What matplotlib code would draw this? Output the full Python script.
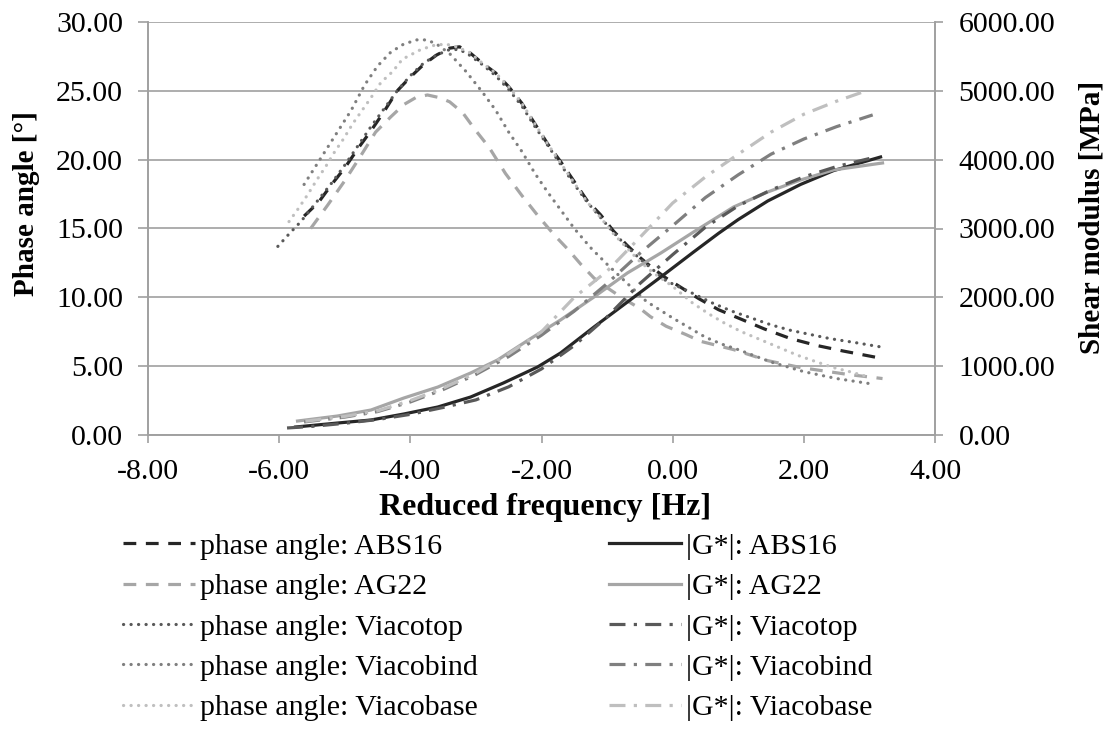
import numpy as np
import matplotlib.pyplot as plt
from matplotlib.ticker import FormatStrFormatter

plt.rcParams["font.family"] = ["Liberation Serif", "DejaVu Serif"]
plt.rcParams["font.size"] = 21.5
plt.rcParams["axes.unicode_minus"] = False

# phase angle curves (left axis)
abs16_pa_f = [-5.62, -5.4, -5.2, -5.0, -4.8, -4.6, -4.4, -4.2, -4.0, -3.8, -3.6, -3.4, -3.25, -3.1, -2.9, -2.7, -2.5, -2.3, -2.1, -1.9, -1.7, -1.5, -1.3, -1.1, -0.9, -0.7, -0.5, -0.3, -0.1, 0.1, 0.4, 0.7, 1.0, 1.4, 1.8, 2.2, 2.6, 3.15]
abs16_pa = [15.9, 16.9, 18.2, 19.4, 20.8, 22.1, 23.5, 25.0, 26.0, 26.9, 27.6, 28.1, 28.2, 27.8, 27.0, 26.3, 25.3, 24.1, 22.6, 21.1, 19.8, 18.4, 17.0, 16.0, 14.8, 13.8, 12.9, 12.1, 11.4, 10.8, 9.9, 9.1, 8.5, 7.7, 7.0, 6.5, 6.1, 5.6]

ag22_pa_f = [-5.52, -5.26, -5.01, -4.78, -4.53, -4.3, -4.1, -3.92, -3.74, -3.55, -3.4, -3.2, -3.0, -2.8, -2.55, -2.3, -2.05, -1.8, -1.6, -1.4, -1.2, -1.0, -0.75, -0.5, -0.34, -0.1, 0.2, 0.43, 0.93, 1.45, 1.95, 2.67, 3.2]
ag22_pa = [15.0, 16.7, 18.4, 20.1, 22.0, 23.1, 24.0, 24.5, 24.7, 24.5, 24.2, 23.4, 22.1, 20.9, 19.0, 17.4, 15.9, 14.5, 13.5, 12.4, 11.4, 10.7, 9.9, 9.2, 8.6, 7.9, 7.3, 6.8, 6.2, 5.4, 4.9, 4.4, 4.1]

top_pa_f = [-6.02, -5.85, -5.67, -5.5, -5.2, -5.0, -4.8, -4.6, -4.4, -4.2, -4.0, -3.8, -3.6, -3.4, -3.25, -3.1, -2.9, -2.7, -2.5, -2.3, -2.1, -1.9, -1.7, -1.5, -1.3, -1.1, -0.9, -0.7, -0.5, -0.3, -0.1, 0.3, 0.6, 0.9, 1.2, 1.5, 1.8, 2.1, 2.4, 2.8, 3.17]
top_pa = [13.7, 14.6, 15.5, 16.5, 18.3, 19.6, 21.0, 22.4, 23.7, 25.0, 26.1, 27.0, 27.6, 28.0, 28.0, 27.6, 26.9, 26.1, 25.1, 23.9, 22.4, 21.0, 19.6, 18.2, 16.9, 15.8, 14.7, 13.7, 12.8, 12.0, 11.2, 10.3, 9.6, 9.0, 8.5, 8.0, 7.6, 7.3, 7.0, 6.7, 6.4]

bind_pa_f = [-5.62, -5.5, -5.3, -5.1, -4.9, -4.7, -4.5, -4.3, -4.1, -3.9, -3.75, -3.6, -3.4, -3.15, -2.9, -2.7, -2.5, -2.3, -2.1, -1.9, -1.7, -1.5, -1.25, -1.0, -0.8, -0.6, -0.4, -0.2, 0.0, 0.25, 0.5, 0.75, 1.0, 1.5, 2.0, 2.5, 3.05]
bind_pa = [18.2, 19.1, 20.6, 22.1, 23.6, 25.4, 26.8, 27.8, 28.4, 28.7, 28.7, 28.4, 27.7, 26.4, 24.9, 23.6, 22.0, 20.6, 19.0, 17.6, 16.3, 15.0, 13.6, 12.4, 11.5, 10.6, 9.7, 9.1, 8.5, 7.8, 7.1, 6.6, 6.2, 5.3, 4.6, 4.1, 3.7]

base_pa_f = [-5.85, -5.7, -5.56, -5.43, -5.29, -5.15, -5.02, -4.88, -4.6, -4.45, -4.27, -4.12, -3.96, -3.84, -3.64, -3.46, -3.3, -3.1, -2.9, -2.7, -2.5, -2.3, -2.1, -1.9, -1.7, -1.5, -1.3, -1.1, -0.9, -0.7, -0.5, -0.3, 0.0, 0.3, 0.55, 0.8, 1.05, 1.3, 1.6, 1.9, 2.2, 2.45, 2.7, 2.92]
base_pa = [15.5, 16.5, 17.5, 18.5, 19.5, 20.6, 21.5, 22.6, 24.5, 25.6, 26.4, 27.3, 27.7, 28.0, 28.3, 28.4, 28.2, 27.8, 27.0, 26.3, 25.3, 24.1, 22.6, 21.1, 19.7, 18.3, 16.9, 15.8, 14.6, 13.6, 12.6, 11.8, 10.8, 9.6, 8.8, 8.1, 7.5, 7.0, 6.4, 5.8, 5.3, 4.9, 4.6, 4.3]

# |G*| curves (right axis, MPa)
abs16_g_f = [-5.75, -5.11, -4.6, -4.1, -3.58, -3.08, -2.58, -2.06, -1.71, -1.2, -0.69, -0.18, 0.32, 0.7, 1.0, 1.45, 1.95, 2.45, 3.17]
abs16_g = [116, 174, 218, 305, 407, 552, 756, 988, 1191, 1569, 1932, 2296, 2659, 2930, 3130, 3400, 3640, 3840, 4039]

ag22_g_f = [-5.72, -5.11, -4.6, -4.1, -3.58, -3.08, -2.67, -2.2, -1.71, -1.2, -0.69, -0.18, 0.32, 0.93, 1.45, 1.95, 2.45, 3.2]
ag22_g = [203, 276, 363, 537, 697, 901, 1090, 1380, 1671, 2005, 2354, 2644, 2950, 3313, 3531, 3705, 3850, 3952]

top_g_f = [-5.88, -5.5, -5.0, -4.5, -4.0, -3.5, -3.0, -2.5, -2.0, -1.5, -1.0, -0.5, 0.0, 0.5, 1.0, 1.5, 2.0, 2.5, 3.1]
top_g = [102, 125, 170, 225, 300, 400, 510, 700, 960, 1300, 1715, 2200, 2620, 3020, 3330, 3560, 3750, 3900, 4040]

bind_g_f = [-5.62, -5.0, -4.5, -4.0, -3.5, -3.0, -2.5, -2.0, -1.5, -1.0, -0.5, 0.0, 0.5, 1.0, 1.5, 2.0, 2.5, 3.05]
bind_g = [190, 260, 340, 480, 660, 880, 1140, 1450, 1800, 2200, 2640, 3040, 3450, 3780, 4080, 4300, 4480, 4650]

base_g_f = [-5.6, -5.0, -4.5, -4.0, -3.5, -3.0, -2.5, -2.0, -1.5, -1.0, -0.5, 0.0, 0.5, 1.0, 1.5, 2.0, 2.5, 2.95]
base_g = [200, 270, 350, 500, 680, 900, 1180, 1500, 2000, 2380, 2870, 3370, 3750, 4080, 4400, 4660, 4850, 5000]

c_abs, c_ag, c_top, c_bind, c_base = '#262626', '#a6a6a6', '#595959', '#7f7f7f', '#bfbfbf'
lw = 2.3
dash = (0, (4, 3))
dot = (0, (0.05, 2.3))
dashdot = (0, (5, 2.6, 1, 2.6))

W, H = 1111, 756
fig = plt.figure(figsize=(W / 100, H / 100), dpi=100)
ax = fig.add_axes([148/W, 1 - 435/H, (935-148)/W, (435-22)/H])
ax2 = ax.twinx()

lines = []
lines += ax.plot(abs16_pa_f, abs16_pa, linestyle=dash, color=c_abs, lw=lw, label='phase angle: ABS16')
lines += ax.plot(ag22_pa_f, ag22_pa, linestyle=dash, color=c_ag, lw=lw, label='phase angle: AG22')
lines += ax.plot(top_pa_f, top_pa, linestyle=dot, color=c_top, lw=lw, dash_capstyle='round', label='phase angle: Viacotop')
lines += ax.plot(bind_pa_f, bind_pa, linestyle=dot, color=c_bind, lw=lw, dash_capstyle='round', label='phase angle: Viacobind')
lines += ax.plot(base_pa_f, base_pa, linestyle=dot, color=c_base, lw=lw, dash_capstyle='round', label='phase angle: Viacobase')

lines += ax2.plot(abs16_g_f, abs16_g, '-', color=c_abs, lw=lw, label='|G*|: ABS16')
lines += ax2.plot(ag22_g_f, ag22_g, '-', color=c_ag, lw=lw, label='|G*|: AG22')
lines += ax2.plot(top_g_f, top_g, linestyle=dashdot, color=c_top, lw=lw, label='|G*|: Viacotop')
lines += ax2.plot(bind_g_f, bind_g, linestyle=dashdot, color=c_bind, lw=lw, label='|G*|: Viacobind')
lines += ax2.plot(base_g_f, base_g, linestyle=dashdot, color=c_base, lw=lw, label='|G*|: Viacobase')

ax.set_xlim(-8, 4)
ax.set_ylim(0, 30)
ax2.set_ylim(0, 6000)
ax.set_xticks(np.arange(-8, 4.1, 2))
ax.set_yticks(np.arange(0, 30.1, 5))
ax2.set_yticks(np.arange(0, 6001, 1000))
ax.xaxis.set_major_formatter(FormatStrFormatter('%.2f'))
ax.yaxis.set_major_formatter(FormatStrFormatter('%.2f'))
ax2.yaxis.set_major_formatter(FormatStrFormatter('%.2f'))

ax.grid(axis='y', color='#a0a0a0', lw=1.2)
ax.set_axisbelow(True)
for a in (ax, ax2):
    a.spines['top'].set_visible(False)
    for s in ('left', 'right', 'bottom'):
        a.spines[s].set_color('#a0a0a0')
        a.spines[s].set_linewidth(1.2)
    a.tick_params(color='#a0a0a0', width=1.2, direction='out')
ax.tick_params(axis='x', length=6, pad=11)
ax.tick_params(axis='y', length=7, pad=11)
ax2.tick_params(axis='y', length=6, pad=11)

fig.text(545/W, 1 - 508/H, 'Reduced frequency [Hz]', fontweight='bold', fontsize=23,
         ha='center', va='center')
fig.text(27/W, 1 - 204/H, 'Phase angle [°]', fontweight='bold', fontsize=21,
         rotation=90, ha='center', va='center')
fig.text(1092/W, 1 - 217/H, 'Shear modulus [MPa]', fontweight='bold', fontsize=21,
         rotation=90, ha='center', va='center')

fig.legend(handles=lines, ncol=2, loc='upper left', bbox_to_anchor=(123/W, 1 - 533/H),
           frameon=False, handlelength=2.4, handletextpad=0.17, columnspacing=4.4, labelspacing=0.45,
           borderpad=0, borderaxespad=0)

fig.savefig('out.png', dpi=100)
